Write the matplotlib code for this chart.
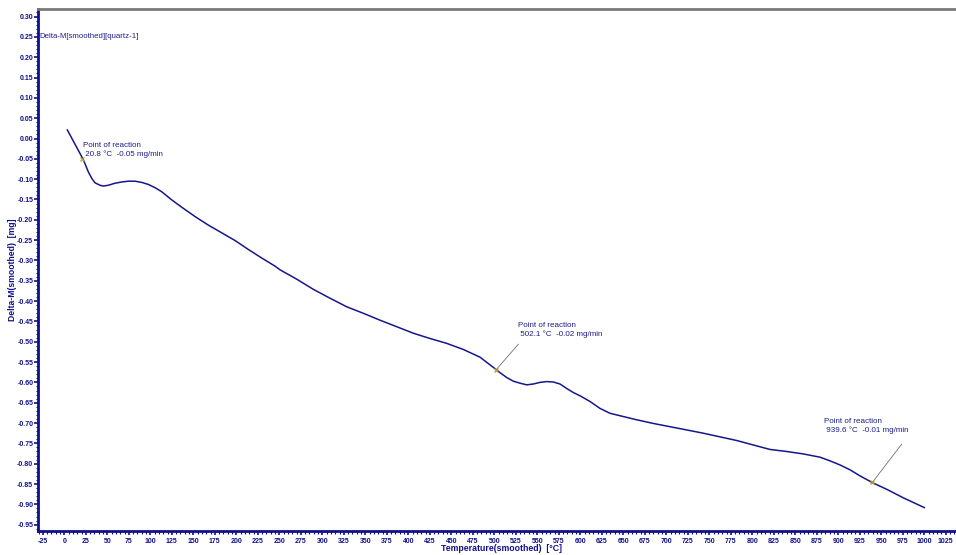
import matplotlib
matplotlib.use("Agg")
import matplotlib.pyplot as plt
from matplotlib.ticker import MultipleLocator, FormatStrFormatter
from matplotlib import font_manager

# ---- data ----
temperature = [3.5, 22.1, 27.9, 31.9, 35.7, 41.5, 45.3, 51.2, 59.0, 66.7,
               74.4, 82.2, 90.0, 97.7, 105.5, 113.3, 124.9, 136.5, 152.0, 167.4,
               183.0, 198.5, 214.0, 229.5, 245.0, 250.8, 270.2, 289.5, 309.0, 328.4,
               347.7, 367.1, 386.5, 405.8, 425.2, 444.7, 464.0, 483.4, 498.8, 506.6,
               514.4, 522.1, 529.9, 537.7, 545.3, 553.1, 560.9, 568.6, 576.4, 584.2,
               591.9, 599.7, 611.3, 622.9, 634.5, 650.0, 665.6, 684.9, 704.3, 723.7,
               743.0, 762.4, 781.9, 801.2, 820.6, 840.0, 859.3, 878.7, 890.3, 901.9,
               913.6, 925.2, 940.0, 956.3, 975.6, 1000.0]
delta_m = [0.021, -0.052, -0.082, -0.098, -0.109, -0.115, -0.117, -0.115, -0.110, -0.107,
           -0.105, -0.105, -0.108, -0.113, -0.121, -0.131, -0.151, -0.169, -0.192, -0.213,
           -0.232, -0.251, -0.273, -0.294, -0.314, -0.323, -0.346, -0.371, -0.393, -0.414,
           -0.430, -0.447, -0.463, -0.479, -0.492, -0.504, -0.519, -0.538, -0.563, -0.576,
           -0.588, -0.597, -0.602, -0.606, -0.604, -0.600, -0.598, -0.599, -0.604, -0.615,
           -0.625, -0.633, -0.647, -0.664, -0.676, -0.684, -0.692, -0.701, -0.709, -0.717,
           -0.725, -0.734, -0.743, -0.754, -0.765, -0.770, -0.776, -0.784, -0.793, -0.803,
           -0.815, -0.830, -0.847, -0.863, -0.884, -0.908]

reaction_T = [20.8, 502.1, 939.6]
reaction_val = [-0.050, -0.569, -0.846]
reaction_rate = ["-0.05", "-0.02", "-0.01"]

series_title = "Delta-M[smoothed][quartz-1]"
x_label = "Temperature(smoothed)  [\u00b0C]"
y_label = "Delta-M(smoothed)  [mg]"

# ---- fonts ----
names = {f.name for f in font_manager.fontManager.ttflist}
narrow = "Liberation Sans Narrow" if "Liberation Sans Narrow" in names else "Liberation Sans"
FAM = [narrow, "DejaVu Sans"]

NAVY = "#10108a"
TXT = "#1c1c8c"

fig = plt.figure(figsize=(9.56, 5.55), dpi=100)
ax = fig.add_axes([38/956, 24/555, (955-38)/956, (531-9)/555])

ax.plot(temperature, delta_m, color="#16168c", lw=1.1, zorder=3,
        solid_joinstyle="round")

ax.set_xlim(-30.6, 1035.7)
ax.set_ylim(-0.9656, 0.3186)

ax.xaxis.set_major_locator(MultipleLocator(25))
ax.xaxis.set_minor_locator(MultipleLocator(5))
ax.yaxis.set_major_locator(MultipleLocator(0.05))
ax.yaxis.set_minor_locator(MultipleLocator(0.01))
ax.yaxis.set_major_formatter(FormatStrFormatter("%.2f"))
ax.xaxis.set_major_formatter(FormatStrFormatter("%d"))

ax.tick_params(which="major", direction="out", length=3, width=1.2, color=NAVY,
               labelsize=5, labelcolor=NAVY)
ax.tick_params(axis="y", which="major", pad=0.4)
ax.tick_params(axis="x", which="major", pad=2.2)
ax.tick_params(which="minor", direction="out", length=1.8, width=0.8, color=NAVY)
for lab in ax.get_xticklabels() + ax.get_yticklabels():
    lab.set_family(FAM)
    lab.set_fontweight("bold")

for s in ["left", "bottom"]:
    ax.spines[s].set_color(NAVY)
    ax.spines[s].set_linewidth(2)
ax.spines["top"].set_color("#7a7a7a")
ax.spines["top"].set_linewidth(2)
ax.spines["right"].set_visible(False)

ax.set_xlabel(x_label, family=FAM, fontweight="bold", fontsize=6.3, color=NAVY)
ax.xaxis.set_label_coords(0.505, -0.025)
ax.xaxis.label.set_va("top")
ax.set_ylabel(y_label, family=FAM, fontweight="bold", fontsize=6.2, color=NAVY)
ax.yaxis.set_label_coords(-0.0225, 0.5)

ax.text(0.002, 0.25, series_title, transform=ax.get_yaxis_transform(),
        family=FAM, fontsize=5.6, color=TXT, va="center", ha="left")

# annotations: text anchor (T, val) and leader end
text_pos = [(21.7, -0.008), (527.6, -0.451), (883.4, -0.687)]
leader_end = [None, (528.0, -0.506), (973.7, -0.752)]
for T, v, r, tp, le in zip(reaction_T, reaction_val, reaction_rate, text_pos, leader_end):
    if le is not None:
        ax.plot([T, le[0]], [v, le[1]], color="#707070", lw=0.6, zorder=2)
    ax.plot([T], [v], marker="x", ms=3, mew=0.9, color="#b8a020", zorder=4)
    ax.text(tp[0], tp[1], "Point of reaction\n %.1f \u00b0C  %s mg/min" % (T, r),
            family=FAM, fontsize=5.8, color=TXT, va="top", ha="left", linespacing=1.3)

fig.savefig("out.png", dpi=100)
